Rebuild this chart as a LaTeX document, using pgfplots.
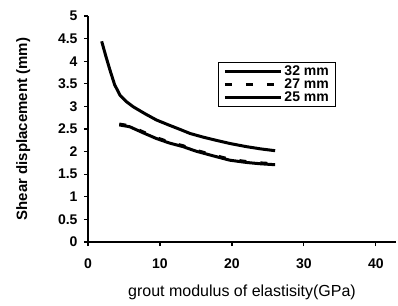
\documentclass[border=0pt]{standalone}
\usepackage{pgfplots}
\pgfplotsset{compat=1.18}
\usepackage{fontspec}
\setmainfont{Liberation Sans}
\usetikzlibrary{calc}
\begin{document}
\begin{tikzpicture}
\begin{axis}[
  name=ax,
  scale only axis,
  width=308bp, height=226bp,
  xmin=0, xmax=42.8, ymin=0, ymax=5,
  axis lines=left,
  axis line style={line width=1.6bp, -},
  xtick={0,10,20,30,40},
  ytick={0,0.5,1,1.5,2,2.5,3,3.5,4,4.5,5},
  tick style={line width=1.2bp, black},
  tick align=outside,
  major tick length=4bp,
  /pgf/number format/assume math mode=true,
  ticklabel style={font=\fontsize{14bp}{16bp}\selectfont\bfseries},
  yticklabel style={xshift=-3bp},
  xticklabel style={yshift=-9bp},
  xlabel={grout modulus of elastisity(GPa)},
  xlabel style={font=\fontsize{16bp}{19bp}\selectfont, yshift=-10bp},
  ylabel={Shear displacement (mm)},
  ylabel style={font=\fontsize{15bp}{18bp}\selectfont\bfseries, yshift=21bp},
  legend style={at={(rel axis cs:0.422,0.796)}, anchor=north west,
    draw=black, line width=1bp, font=\fontsize{14bp}{15bp}\selectfont\bfseries,
    inner xsep=5bp, inner ysep=1bp, row sep=-2bp, cells={anchor=west}},
  legend image code/.code={\draw[#1] (0bp,0bp) -- (56bp,0bp);},
  clip=false,
]
\addplot[black, line width=3bp, line join=round] coordinates {
(1.9,4.44) (2.5,4.1) (3.06,3.8) (3.7,3.48) (4.44,3.25) (5.3,3.11) (6.3,2.99) (7.9,2.84) (9.5,2.7) (11.2,2.59) (12.8,2.49) (14.2,2.4) (16,2.32) (17.8,2.25) (19.7,2.18) (22,2.11) (24,2.06) (26,2.02)};
\addlegendentry{32 mm}
\addplot[black, line width=3bp, dash pattern=on 7bp off 14bp] coordinates {
(4.35,2.61) (5.8,2.57) (7.6,2.44) (9.5,2.31) (11.3,2.21) (13.2,2.13) (15,2.03) (17.3,1.93) (19.7,1.83) (22,1.78) (24,1.75) (26,1.73)};
\addlegendentry{27 mm}
\addplot[black, line width=3bp, line join=round] coordinates {
(4.35,2.59) (5.8,2.55) (7.6,2.42) (9.5,2.29) (11.3,2.19) (13.2,2.11) (15,2.01) (17.3,1.91) (19.7,1.81) (22,1.76) (24,1.73) (26,1.71)};
\addlegendentry{25 mm}
\end{axis}
\path ($(ax.south west)+(-88bp,-64bp)$) rectangle ($(ax.north east)+(2bp,16bp)$);
\end{tikzpicture}
\end{document}
